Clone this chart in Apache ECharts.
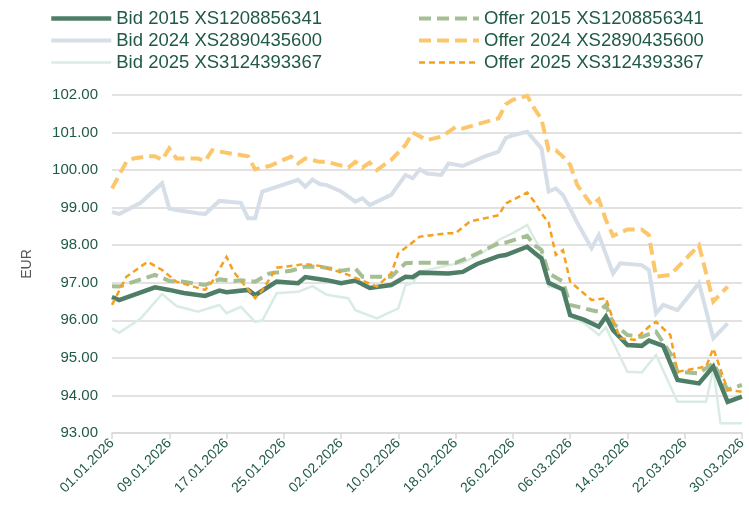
<!DOCTYPE html>
<html><head><meta charset="utf-8">
<script src="https://cdn.jsdelivr.net/npm/echarts@6/dist/echarts.min.js"></script>
<style>html,body{margin:0;padding:0;background:#fff}#c{width:749px;height:514px}</style>
</head><body><div id="c"></div>
<script>
const categories = [
'01.01.2026','02.01.2026','03.01.2026','04.01.2026','05.01.2026','06.01.2026','07.01.2026','08.01.2026','09.01.2026','10.01.2026',
'11.01.2026','12.01.2026','13.01.2026','14.01.2026','15.01.2026','16.01.2026','17.01.2026','18.01.2026','19.01.2026','20.01.2026',
'21.01.2026','22.01.2026','23.01.2026','24.01.2026','25.01.2026','26.01.2026','27.01.2026','28.01.2026','29.01.2026','30.01.2026',
'31.01.2026','01.02.2026','02.02.2026','03.02.2026','04.02.2026','05.02.2026','06.02.2026','07.02.2026','08.02.2026','09.02.2026',
'10.02.2026','11.02.2026','12.02.2026','13.02.2026','14.02.2026','15.02.2026','16.02.2026','17.02.2026','18.02.2026','19.02.2026',
'20.02.2026','21.02.2026','22.02.2026','23.02.2026','24.02.2026','25.02.2026','26.02.2026','27.02.2026','28.02.2026','01.03.2026',
'02.03.2026','03.03.2026','04.03.2026','05.03.2026','06.03.2026','07.03.2026','08.03.2026','09.03.2026','10.03.2026','11.03.2026',
'12.03.2026','13.03.2026','14.03.2026','15.03.2026','16.03.2026','17.03.2026','18.03.2026','19.03.2026','20.03.2026','21.03.2026',
'22.03.2026','23.03.2026','24.03.2026','25.03.2026','26.03.2026','27.03.2026','28.03.2026','29.03.2026','30.03.2026'];

const seriesNames = ['Bid 2015 XS1208856341','Bid 2024 XS2890435600','Bid 2025 XS3124393367',
                     'Offer 2015 XS1208856341','Offer 2024 XS2890435600','Offer 2025 XS3124393367'];

const bid2015 = [['01.01.2026',96.62],['02.01.2026',96.54],['07.01.2026',96.88],['09.01.2026',96.81],['11.01.2026',96.73],['14.01.2026',96.65],['16.01.2026',96.79],['17.01.2026',96.75],['20.01.2026',96.81],['21.01.2026',96.67],['24.01.2026',97.03],['27.01.2026',96.99],['28.01.2026',97.15],['31.01.2026',97.07],['02.02.2026',96.99],['04.02.2026',97.06],['06.02.2026',96.86],['09.02.2026',96.94],['11.02.2026',97.16],['12.02.2026',97.15],['13.02.2026',97.27],['17.02.2026',97.25],['19.02.2026',97.29],['21.02.2026',97.50],['24.02.2026',97.71],['25.02.2026',97.74],['28.02.2026',97.96],['01.03.2026',97.80],['02.03.2026',97.65],['03.03.2026',97.00],['05.03.2026',96.82],['06.03.2026',96.14],['08.03.2026',96.01],['10.03.2026',95.83],['11.03.2026',96.10],['12.03.2026',95.74],['14.03.2026',95.34],['16.03.2026',95.32],['17.03.2026',95.46],['19.03.2026',95.32],['21.03.2026',94.41],['24.03.2026',94.32],['26.03.2026',94.77],['28.03.2026',93.83],['30.03.2026',93.97]];

const offer2015 = [['01.01.2026',96.91],['02.01.2026',96.90],['07.01.2026',97.21],['09.01.2026',97.05],['11.01.2026',97.03],['14.01.2026',96.94],['16.01.2026',97.09],['18.01.2026',97.05],['19.01.2026',97.07],['21.01.2026',97.03],['23.01.2026',97.25],['26.01.2026',97.32],['28.01.2026',97.43],['30.01.2026',97.43],['02.02.2026',97.32],['04.02.2026',97.38],['05.02.2026',97.16],['09.02.2026',97.16],['11.02.2026',97.52],['12.02.2026',97.53],['18.02.2026',97.53],['20.02.2026',97.69],['24.02.2026',98.05],['25.02.2026',98.07],['28.02.2026',98.25],['01.03.2026',98.00],['02.03.2026',97.87],['03.03.2026',97.25],['05.03.2026',97.03],['06.03.2026',96.41],['09.03.2026',96.27],['10.03.2026',96.23],['11.03.2026',96.41],['12.03.2026',95.92],['14.03.2026',95.61],['16.03.2026',95.56],['18.03.2026',95.70],['20.03.2026',95.12],['21.03.2026',94.63],['24.03.2026',94.59],['26.03.2026',94.86],['28.03.2026',94.15],['30.03.2026',94.28]];

const bid2025 = [['01.01.2026',95.79],['02.01.2026',95.67],['05.01.2026',96.05],['08.01.2026',96.70],['10.01.2026',96.38],['13.01.2026',96.23],['16.01.2026',96.41],['17.01.2026',96.19],['19.01.2026',96.36],['21.01.2026',95.96],['22.01.2026',96.00],['24.01.2026',96.72],['27.01.2026',96.76],['29.01.2026',96.91],['31.01.2026',96.68],['03.02.2026',96.59],['04.02.2026',96.27],['07.02.2026',96.05],['10.02.2026',96.32],['11.02.2026',96.94],['12.02.2026',96.99],['13.02.2026',97.29],['17.02.2026',97.47],['19.02.2026',97.53],['22.02.2026',97.83],['24.02.2026',98.14],['26.02.2026',98.32],['28.02.2026',98.54],['01.03.2026',98.18],['02.03.2026',97.87],['03.03.2026',96.90],['05.03.2026',96.85],['06.03.2026',96.10],['08.03.2026',95.92],['10.03.2026',95.61],['11.03.2026',95.81],['14.03.2026',94.63],['16.03.2026',94.61],['18.03.2026',95.08],['21.03.2026',93.83],['25.03.2026',93.83],['26.03.2026',94.72],['27.03.2026',93.26],['30.03.2026',93.26]];

const offer2025 = [['01.01.2026',96.41],['03.01.2026',97.16],['05.01.2026',97.43],['06.01.2026',97.56],['08.01.2026',97.34],['10.01.2026',97.03],['14.01.2026',96.81],['15.01.2026',97.03],['17.01.2026',97.69],['18.01.2026',97.29],['21.01.2026',96.59],['22.01.2026',96.80],['24.01.2026',97.40],['28.01.2026',97.50],['30.01.2026',97.45],['01.02.2026',97.34],['03.02.2026',97.21],['07.02.2026',96.90],['09.02.2026',97.25],['10.02.2026',97.78],['13.02.2026',98.23],['17.02.2026',98.32],['18.02.2026',98.32],['20.02.2026',98.63],['24.02.2026',98.80],['25.02.2026',99.11],['28.02.2026',99.40],['01.03.2026',99.16],['02.03.2026',98.85],['03.03.2026',98.60],['04.03.2026',97.74],['05.03.2026',97.87],['06.03.2026',97.03],['09.03.2026',96.54],['11.03.2026',96.59],['12.03.2026',96.01],['13.03.2026',95.52],['15.03.2026',95.48],['17.03.2026',95.83],['18.03.2026',95.96],['20.03.2026',95.61],['21.03.2026',94.63],['25.03.2026',94.77],['26.03.2026',95.25],['28.03.2026',94.15],['30.03.2026',94.10]];

const offer2024 = [['01.01.2026',99.51],['03.01.2026',100.22],['04.01.2026',100.31],['06.01.2026',100.37],['07.01.2026',100.37],['08.01.2026',100.27],['09.01.2026',100.58],['10.01.2026',100.31],['13.01.2026',100.31],['14.01.2026',100.24],['15.01.2026',100.53],['17.01.2026',100.46],['20.01.2026',100.37],['21.01.2026',100.02],['22.01.2026',100.07],['23.01.2026',100.11],['26.01.2026',100.36],['27.01.2026',100.18],['28.01.2026',100.31],['30.01.2026',100.22],['31.01.2026',100.22],['03.02.2026',100.07],['04.02.2026',100.22],['05.02.2026',100.07],['06.02.2026',100.20],['07.02.2026',100.00],['09.02.2026',100.27],['11.02.2026',100.67],['12.02.2026',101.00],['14.02.2026',100.80],['16.02.2026',100.89],['18.02.2026',101.15],['19.02.2026',101.11],['24.02.2026',101.38],['25.02.2026',101.75],['26.02.2026',101.87],['28.02.2026',101.98],['01.03.2026',101.64],['02.03.2026',101.36],['03.03.2026',100.53],['04.03.2026',100.53],['05.03.2026',100.36],['06.03.2026',100.14],['07.03.2026',99.60],['09.03.2026',99.07],['10.03.2026',99.22],['11.03.2026',98.67],['12.03.2026',98.25],['14.03.2026',98.42],['16.03.2026',98.42],['17.03.2026',98.27],['18.03.2026',97.16],['20.03.2026',97.21],['24.03.2026',98.00],['26.03.2026',96.50],['28.03.2026',96.90]];

const bid2024 = [['01.01.2026',98.89],['02.01.2026',98.83],['05.01.2026',99.13],['08.01.2026',99.65],['09.01.2026',98.98],['10.01.2026',98.94],['13.01.2026',98.85],['14.01.2026',98.83],['16.01.2026',99.18],['19.01.2026',99.13],['20.01.2026',98.72],['21.01.2026',98.72],['22.01.2026',99.43],['27.01.2026',99.74],['28.01.2026',99.56],['29.01.2026',99.75],['30.01.2026',99.63],['31.01.2026',99.60],['02.02.2026',99.43],['04.02.2026',99.16],['05.02.2026',99.25],['06.02.2026',99.07],['09.02.2026',99.34],['11.02.2026',99.87],['12.02.2026',99.78],['13.02.2026',100.02],['14.02.2026',99.91],['16.02.2026',99.87],['17.02.2026',100.18],['19.02.2026',100.11],['22.02.2026',100.36],['24.02.2026',100.49],['25.02.2026',100.85],['26.02.2026',100.93],['28.02.2026',101.02],['01.03.2026',100.80],['02.03.2026',100.58],['03.03.2026',99.43],['04.03.2026',99.51],['05.03.2026',99.34],['07.03.2026',98.60],['09.03.2026',97.92],['10.03.2026',98.27],['12.03.2026',97.25],['13.03.2026',97.52],['16.03.2026',97.47],['17.03.2026',97.34],['18.03.2026',96.19],['19.03.2026',96.41],['21.03.2026',96.27],['24.03.2026',96.99],['26.03.2026',95.52],['28.03.2026',95.92]];

const yMin = 93, yMax = 102, yStep = 1;
const txt = '#1f5a43';
const font = 'Liberation Sans';

function lineSeries(name, data, color, width, type, z) {
  return {
    name: name, type: 'line', data: data, showSymbol: false, symbol: 'none',
    lineStyle: { color: color, width: width, type: type, cap: 'butt', join: 'miter' },
    itemStyle: { color: color }, z: z, animation: false
  };
}

const chart = echarts.init(document.getElementById('c'), null, { renderer: 'canvas' });
const legendBase = {
  orient: 'vertical', top: 4, itemWidth: 60, itemHeight: 12, itemGap: 3,
  textStyle: { color: txt, fontSize: 18.5, fontFamily: font },
  itemStyle: { opacity: 0 },
  lineStyle: { width: 'inherit' },
  selectedMode: false
};
chart.setOption({
  backgroundColor: '#ffffff',
  animation: false,
  legend: [
    Object.assign({}, legendBase, { left: 44, data: seriesNames.slice(0, 3) }),
    Object.assign({}, legendBase, { left: 412, data: seriesNames.slice(3, 6) })
  ],
  grid: { left: 112, right: 1, top: 95, bottom: 81, containLabel: false },
  xAxis: {
    type: 'category', data: categories, boundaryGap: false,
    axisLine: { lineStyle: { color: '#d9d9d9', width: 1.5 } },
    axisTick: { show: true, interval: 7, length: 6, lineStyle: { color: '#d9d9d9', width: 1.5 } },
    axisLabel: { interval: 7, rotate: 45, color: txt, fontSize: 14, fontFamily: font, margin: 8 },
    splitLine: { show: false }
  },
  yAxis: {
    type: 'value', min: yMin, max: yMax, interval: yStep,
    name: 'EUR', nameLocation: 'middle', nameGap: 78, nameRotate: 90,
    nameTextStyle: { color: '#555555', fontSize: 14, fontFamily: font },
    axisLine: { show: false }, axisTick: { show: false },
    axisLabel: { color: txt, fontSize: 15, fontFamily: font, margin: 14, formatter: v => v.toFixed(2) },
    splitLine: { lineStyle: { color: '#d9d9d9', width: 1.5 } }
  },
  series: [
    lineSeries(seriesNames[1], bid2024, '#d6dee8', 4, 'solid', 2),
    lineSeries(seriesNames[4], offer2024, '#fcc76c', 4, [12, 6], 3),
    lineSeries(seriesNames[2], bid2025, '#d9ece4', 2.5, 'solid', 4),
    lineSeries(seriesNames[3], offer2015, '#a6be93', 4, [12, 6], 5),
    lineSeries(seriesNames[0], bid2015, '#4f7e67', 4.5, 'solid', 6),
    lineSeries(seriesNames[5], offer2025, '#f5a01f', 2.5, [6, 4], 7)
  ]
});
</script></body></html>
